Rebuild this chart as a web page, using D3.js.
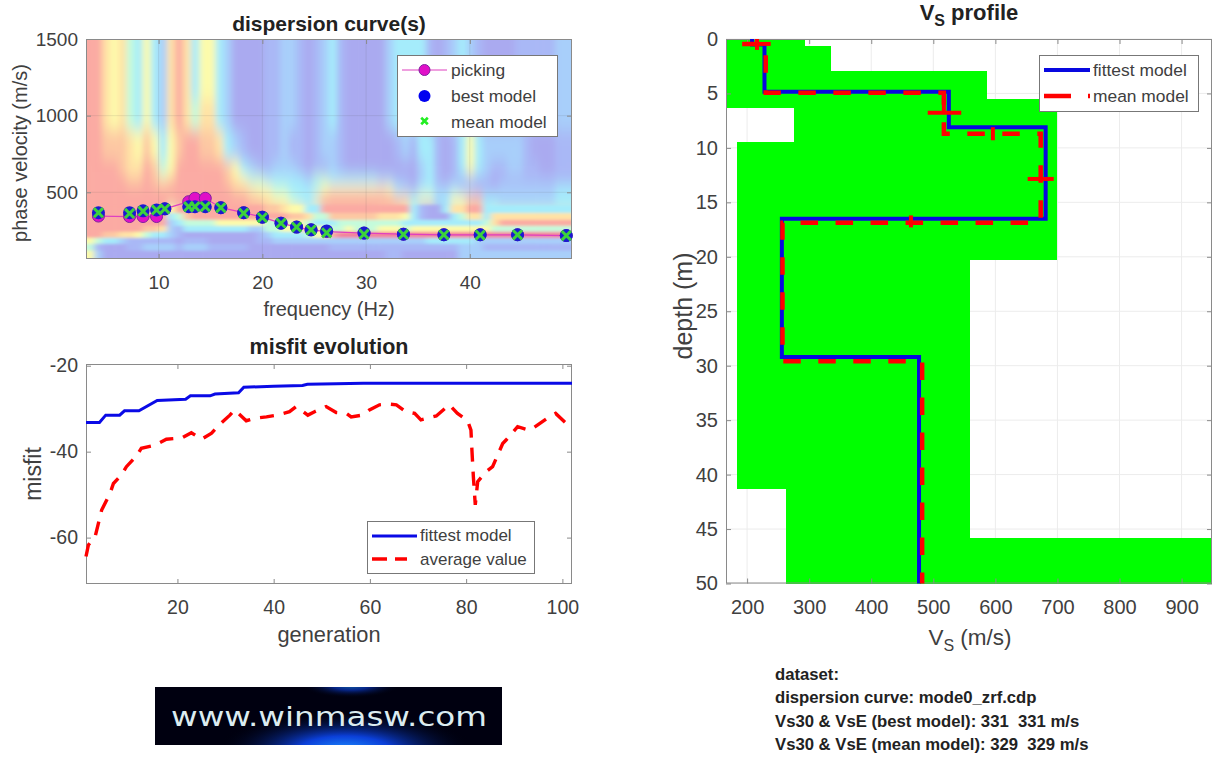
<!DOCTYPE html>
<html>
<head>
<meta charset="utf-8">
<title>winMASW result</title>
<script src="https://cdn.jsdelivr.net/npm/d3@7"></script>
<style>
    html, body { margin: 0; padding: 0; background: #fff; }
    svg { display: block; }
    text { font-family: "Liberation Sans", Arial, sans-serif; }
</style>
</head>
<body>
<svg id="chart" width="1212" height="758"></svg>
<script>
// --- dispersion curves ---
const pickFreq = [4.2, 7.2, 8.5, 9.8, 10.6, 12.9, 13.5, 14.5, 16.0, 18.2, 20.0, 21.8, 23.3, 24.7, 26.2, 29.8, 33.6, 37.5, 41.0, 44.6, 49.3];
const pickVel = [345, 342, 342, 342, 392, 439, 461, 461, 400, 367, 338, 299, 273, 255, 244, 234, 227, 223, 223, 223, 218];
const bestVel = [367, 367, 379, 385, 392, 406, 406, 406, 400, 367, 338, 299, 273, 255, 248, 234, 227, 223, 223, 223, 218];
const meanVel = [367, 362, 377, 385, 392, 406, 406, 406, 400, 364, 335, 299, 273, 255, 236, 227, 225, 223, 221, 223, 218];

// velocity spectrum, one string per velocity band, one digit (0-9) per frequency column
const spectrumFreqStart = 3;
const spectrumFreqStep = 0.78;
const spectrumVelEdges = [1500, 1100, 905, 710, 612, 547, 482, 417, 365, 320, 281, 242, 203, 164, 119, 65];
const spectrumRows = [
    "886564353268635532000011221012310000023333101232100001111122",
    "886564353268646632000011221012310000023333101234200001111122",
    "887776575357887763210011211012210000001213310135322222100011",
    "888876687458888887532112221011210000000002310135321122110011",
    "888887787678888887654433333244333333221102310111110111111111",
    "888888888888888888776554433335666666653213322322111222222233",
    "888888888888888888887765543368888888887645533557733222222233",
    "888888888858888888888877655338888888888831003668833333333333",
    "888888888834788888888888877644777777666531000346636666666666",
    "888888888823444455555544455433344444444333333333346888888888",
    "888888877621333333332244556655445444555455555555554444444444",
    "887766543321000000000123333455899999999999999999999999999999",
    "543321111110111000000112222222222222222222333333222222222222",
    "410001122221222111110000000000111111111111111122211111111111",
    "520000000000000000000000000000000000011000000022222222222222"
];
const spectrumLevels = [0, 1, 2, 3, 4, 5, 6, 7, 8, 9];
const spectrumColors = ["#aaaaf0", "#a9b8f6", "#a8cffa", "#a5ecfb", "#c4fbdc", "#fdfbab", "#ffe3a6", "#fdc8a3", "#fbaaa3", "#f5809a"];

// --- misfit evolution ---
const fittestGen = [1, 3.8, 5.1, 8, 9, 12, 15.8, 21.7, 22.7, 26.8, 27.8, 32.7, 33.8, 40, 46, 47, 53, 58.6, 102];
const fittestMisfit = [-33.2, -33.2, -31.5, -31.5, -30.5, -30.5, -28.1, -27.8, -27, -27, -26.6, -26.3, -25, -24.8, -24.6, -24.3, -24.2, -24.1, -24.1];
const averageGen = [1, 1.5, 2.9, 4.25, 6, 6.7, 8.4, 9.4, 11.5, 12.5, 14.6, 15.8, 17.7, 19.8, 20.8, 22.9, 25, 27.1, 28.5, 30.9, 31.9, 34.3, 36.1, 38.5, 40.6, 43.3, 44.7, 47.1, 48.5, 50.9, 53, 55.1, 56.1, 58.5, 59.9, 62, 63.7, 65.5, 67.5, 69.3, 70.6, 73.8, 76.5, 78.2, 80.3, 81, 81.2, 81.5, 81.9, 82.4, 84.1, 85.5, 87.6, 88.3, 90.7, 93.1, 94.2, 96.9, 98.6, 100.7, 101.8];
const averageMisfit = [-64.4, -61.7, -59.8, -53.6, -49.7, -47.4, -45.4, -43.5, -41, -39.2, -38.7, -38.2, -37.1, -36.9, -36.9, -35.6, -37.1, -35.7, -34, -31.5, -30.3, -32.8, -32.2, -31.9, -31.5, -30.7, -29.5, -31.5, -30.7, -29.5, -30.9, -31.1, -31.9, -31.5, -30.3, -29.1, -28.9, -29.1, -30.7, -31.1, -32.6, -31.7, -29.1, -31.1, -32.8, -35, -39.6, -45.8, -52.4, -47, -44.7, -43.5, -38.1, -37.3, -34.2, -35, -34.3, -32.2, -31.1, -33.3, -32.8];

// --- Vs profile ---
const fittestVs = [208, 208, 228, 228, 525, 525, 681, 681, 256, 256, 477, 477];
const fittestDepth = [0, 0.5, 0.5, 4.84, 4.84, 8.1, 8.1, 16.5, 16.5, 29.2, 29.2, 50];
const meanVs = [192, 230, 230, 517, 517, 673, 673, 257, 257, 482, 482];
const meanDepth = [0.45, 0.45, 4.93, 4.93, 8.7, 8.7, 16.87, 16.87, 29.6, 29.6, 50];
// short red strokes crossing the mean model: v1, d1, v2, d2
const meanCrosses = [[216, 0, 216, 1], [216, 0.45, 238, 0.45], [517, 5.4, 517, 6.9], [491, 6.77, 545, 6.77], [596, 8.1, 596, 9.3], [652, 12.85, 694, 12.85], [464, 16.2, 464, 17.3]];
// search space, one band per depth interval
const bandTop = [0, 0.6, 2.9, 5.5, 6.3, 9.5, 20.3, 41.3, 45.8];
const bandBottom = [0.6, 2.9, 5.5, 6.3, 9.5, 20.3, 41.3, 45.8, 50];
const bandMin = [166, 166, 166, 166, 276, 183, 183, 263, 263];
const bandMax = [293, 335, 586, 699, 699, 699, 559, 559, 949];

const infoLines = ["dataset:", "dispersion curve: mode0_zrf.cdp", "Vs30 & VsE (best model): 331  331 m/s", "Vs30 & VsE (mean model): 329  329 m/s"];

const svg = d3.select("#chart");
const ink = "#404040";
const frame = "#8a8a8a";

// draws ticks on all four sides (matlab box style) and the tick labels left and bottom
function drawBox(g, x, y, xTicks, yTicks, fontSize) {
    const r = x.range(), b = y.range();
    const left = r[0], right = r[1];
    const top = Math.min(b[0], b[1]), bottom = Math.max(b[0], b[1]);
    g.append("g").attr("transform", "translate(0," + bottom + ")")
        .call(d3.axisBottom(x).tickValues(xTicks).tickSize(-5).tickPadding(16.5).tickFormat(String));
    g.append("g").attr("transform", "translate(0," + top + ")")
        .call(d3.axisTop(x).tickValues(xTicks).tickSize(-5).tickFormat(""));
    g.append("g").attr("transform", "translate(" + left + ",0)")
        .call(d3.axisLeft(y).tickValues(yTicks).tickSize(-5).tickPadding(8).tickFormat(String));
    g.append("g").attr("transform", "translate(" + right + ",0)")
        .call(d3.axisRight(y).tickValues(yTicks).tickSize(-5).tickFormat(""));
    g.selectAll(".domain").remove();
    g.selectAll(".tick line").attr("stroke", frame);
    g.selectAll(".tick text").attr("fill", ink).style("font-size", fontSize + "px").style("font-family", '"Liberation Sans", Arial, sans-serif');
    g.append("rect").attr("x", left + 0.5).attr("y", top + 0.5).attr("width", right - left - 1).attr("height", bottom - top - 1)
        .attr("fill", "none").attr("stroke", frame);
}

function drawTitle(x, y, label, size) {
    svg.append("text").attr("x", x).attr("y", y).attr("text-anchor", "middle")
        .attr("font-weight", "bold").attr("font-size", size).attr("fill", "#222").text(label);
}

function drawAxisLabel(x, y, label, size, rotate) {
    const t = svg.append("text").attr("text-anchor", "middle").attr("font-size", size).attr("fill", ink).text(label);
    if (rotate) {
        t.attr("transform", "translate(" + x + "," + y + ") rotate(-90)");
    } else {
        t.attr("x", x).attr("y", y);
    }
    return t;
}

function legendBox(x0, y0, x1, y1) {
    svg.append("rect").attr("x", x0 + 0.5).attr("y", y0 + 0.5).attr("width", x1 - x0).attr("height", y1 - y0)
        .attr("fill", "#fff").attr("stroke", "#777");
}

function legendText(x, y, label, size) {
    svg.append("text").attr("x", x).attr("y", y).attr("font-size", size).attr("fill", ink).attr("dominant-baseline", "middle").text(label);
}

// ---------- dispersion curve(s) ----------
function drawDispersion() {
    const x = d3.scaleLinear().domain([3, 49.85]).range([86, 572]);
    const y = d3.scaleLinear().domain([65, 1500]).range([259, 39]);
    const color = d3.scaleLinear().domain(spectrumLevels).range(spectrumColors);

    const defs = svg.append("defs");
    defs.append("clipPath").attr("id", "specClip").append("rect").attr("x", 86).attr("y", 39).attr("width", 486).attr("height", 220);
    // upper bands are tall and smooth, lower bands hold the narrow ridges
    [["specBlurTop", "3 8"], ["specBlurLow", "3 1.4"]].forEach(function (f) {
        defs.append("filter").attr("id", f[0]).attr("filterUnits", "userSpaceOnUse")
            .attr("x", 50).attr("y", 0).attr("width", 560).attr("height", 300)
            .append("feGaussianBlur").attr("stdDeviation", f[1]);
    });

    const cells = [];
    spectrumRows.forEach(function (row, r) {
        row.split("").forEach(function (ch, c) {
            cells.push({ r: r, c: c, v: +ch });
        });
    });
    const nCols = spectrumRows[0].length, nRows = spectrumRows.length;
    const clip = svg.append("g").attr("clip-path", "url(#specClip)");

    // outer cells overshoot the clip so the blur does not fade at the frame
    function drawCells(blurId, list) {
        clip.append("g").attr("filter", "url(#" + blurId + ")")
            .selectAll("rect").data(list).enter().append("rect")
            .attr("x", d => x(spectrumFreqStart + d.c * spectrumFreqStep) - (d.c == 0 ? 16 : 0))
            .attr("y", d => y(spectrumVelEdges[d.r]) - (d.r == 0 ? 24 : 0))
            .attr("width", d => x(spectrumFreqStep) - x(0) + 0.6 + (d.c == 0 || d.c == nCols - 1 ? 16 : 0))
            .attr("height", d => y(spectrumVelEdges[d.r + 1]) - y(spectrumVelEdges[d.r]) + 0.6 + (d.r == 0 ? 24 : 0) + (d.r == nRows - 1 ? 16 : 0))
            .attr("fill", d => color(d.v));
    }
    drawCells("specBlurTop", cells);
    drawCells("specBlurLow", cells.filter(d => d.r >= 7));

    // faint grid
    const grid = svg.append("g").attr("stroke", "#555").attr("stroke-opacity", 0.12);
    grid.selectAll("line.v").data([10, 20, 30, 40]).enter().append("line").attr("class", "v")
        .attr("x1", d => x(d)).attr("x2", d => x(d)).attr("y1", 39).attr("y2", 259);
    grid.selectAll("line.h").data([500, 1000]).enter().append("line").attr("class", "h")
        .attr("y1", d => y(d)).attr("y2", d => y(d)).attr("x1", 86).attr("x2", 572);

    drawBox(svg.append("g"), x, y, [10, 20, 30, 40], [500, 1000, 1500], 19);

    const line = d3.line().x(d => x(d[0])).y(d => y(d[1]));
    svg.append("path").attr("d", line(d3.zip(pickFreq, pickVel))).attr("fill", "none").attr("stroke", "#e040c0").attr("stroke-width", 1.2);
    svg.selectAll("circle.pick").data(d3.zip(pickFreq, pickVel)).enter().append("circle").attr("class", "pick")
        .attr("cx", d => x(d[0])).attr("cy", d => y(d[1])).attr("r", 6).attr("fill", "#e010c8").attr("stroke", "#8020a0");
    svg.selectAll("circle.best").data(d3.zip(pickFreq, bestVel)).enter().append("circle").attr("class", "best")
        .attr("cx", d => x(d[0])).attr("cy", d => y(d[1])).attr("r", 6.5).attr("fill", "#1a1ad0");
    const cross = d3.symbol().type(d3.symbolX).size(56);
    svg.selectAll("path.mean").data(d3.zip(pickFreq, meanVel)).enter().append("path").attr("class", "mean")
        .attr("d", cross).attr("transform", d => "translate(" + x(d[0]) + "," + y(d[1]) + ")")
        .attr("fill", "none").attr("stroke", "#3cd23c").attr("stroke-width", 3);

    drawTitle(329, 31, "dispersion curve(s)", 21);
    drawAxisLabel(329, 316, "frequency (Hz)", 20);
    drawAxisLabel(27, 153, "phase velocity (m/s)", 20, true);

    legendBox(397, 55, 557, 136);
    svg.append("line").attr("x1", 402).attr("x2", 447).attr("y1", 70).attr("y2", 70).attr("stroke", "#e040c0").attr("stroke-width", 1.2);
    svg.append("circle").attr("cx", 424.5).attr("cy", 70).attr("r", 5.5).attr("fill", "#e010c8").attr("stroke", "#8020a0");
    svg.append("circle").attr("cx", 424.5).attr("cy", 96).attr("r", 6).attr("fill", "#0000f0");
    svg.append("path").attr("d", d3.symbol().type(d3.symbolX).size(30)).attr("transform", "translate(424.5,121)")
        .attr("fill", "none").attr("stroke", "#22ee22").attr("stroke-width", 2.6);
    legendText(451, 71, "picking", 17.4);
    legendText(451, 97, "best model", 17.4);
    legendText(451, 123, "mean model", 17.4);
}

// ---------- misfit evolution ----------
function drawMisfit() {
    const x = d3.scaleLinear().domain([1, 102]).range([86, 572]);
    const y = d3.scaleLinear().domain([-70.8, -19.6]).range([584, 364]);

    drawBox(svg.append("g"), x, y, [20, 40, 60, 80, 100], [-60, -40, -20], 19.5);

    const line = d3.line().x(d => x(d[0])).y(d => y(d[1]));
    svg.append("path").attr("d", line(d3.zip(fittestGen, fittestMisfit))).attr("fill", "none").attr("stroke", "#0a0ae6").attr("stroke-width", 3);
    svg.append("path").attr("d", line(d3.zip(averageGen, averageMisfit))).attr("fill", "none").attr("stroke", "#f00").attr("stroke-width", 3.4)
        .attr("stroke-dasharray", "14 10");

    drawTitle(329, 354, "misfit evolution", 21.5);
    drawAxisLabel(329, 642, "generation", 21.8);
    drawAxisLabel(41, 474, "misfit", 23, true);

    legendBox(367, 521, 534, 573);
    svg.append("line").attr("x1", 372).attr("x2", 417).attr("y1", 536).attr("y2", 536).attr("stroke", "#0a0ae6").attr("stroke-width", 3);
    svg.append("line").attr("x1", 372).attr("x2", 417).attr("y1", 559).attr("y2", 559).attr("stroke", "#f00").attr("stroke-width", 3.4).attr("stroke-dasharray", "15 8 12 10");
    legendText(420, 537, "fittest model", 17);
    legendText(420, 561, "average value", 17);
}

// ---------- Vs profile ----------
function drawProfile() {
    const x = d3.scaleLinear().domain([166, 949]).range([726, 1212]);
    const y = d3.scaleLinear().domain([50, 0]).range([583.5, 39]);
    const vsTicks = [200, 300, 400, 500, 600, 700, 800, 900];
    const depthTicks = [0, 5, 10, 15, 20, 25, 30, 35, 40, 45, 50];

    const grid = svg.append("g").attr("stroke", "#ececec");
    grid.selectAll("line.v").data(vsTicks).enter().append("line").attr("class", "v")
        .attr("x1", d => x(d)).attr("x2", d => x(d)).attr("y1", 39).attr("y2", 583);
    grid.selectAll("line.h").data(depthTicks).enter().append("line").attr("class", "h")
        .attr("y1", d => y(d)).attr("y2", d => y(d)).attr("x1", 726).attr("x2", 1212);

    svg.selectAll("rect.band").data(d3.range(bandTop.length)).enter().append("rect").attr("class", "band")
        .attr("x", i => x(bandMin[i])).attr("y", i => y(bandTop[i]))
        .attr("width", i => x(bandMax[i]) - x(bandMin[i])).attr("height", i => y(bandBottom[i]) - y(bandTop[i]))
        .attr("fill", "#00ff00").attr("shape-rendering", "crispEdges");

    drawBox(svg.append("g"), x, d3.scaleLinear().domain([0, 50]).range([39, 583.5]), vsTicks, depthTicks, 20);

    const line = d3.line().x(d => x(d[0])).y(d => y(d[1]));
    svg.append("path").attr("d", line(d3.zip(fittestVs, fittestDepth))).attr("fill", "none").attr("stroke", "#0808e0").attr("stroke-width", 4);
    svg.append("path").attr("d", line(d3.zip(meanVs, meanDepth))).attr("fill", "none").attr("stroke", "#f00").attr("stroke-width", 4.5)
        .attr("stroke-dasharray", "17.5 17.5");
    svg.selectAll("line.cross").data(meanCrosses).enter().append("line").attr("class", "cross")
        .attr("x1", d => x(d[0])).attr("y1", d => y(d[1])).attr("x2", d => x(d[2])).attr("y2", d => y(d[3]))
        .attr("stroke", "#f00").attr("stroke-width", 4);

    // title and x label with subscript S
    const title = svg.append("text").attr("x", 969).attr("y", 20).attr("text-anchor", "middle").attr("font-weight", "bold").attr("font-size", 22).attr("fill", "#222");
    title.append("tspan").text("V");
    title.append("tspan").attr("font-size", 16).attr("dy", 6).text("S");
    title.append("tspan").attr("dy", -6).text(" profile");

    const xl = svg.append("text").attr("x", 970).attr("y", 645).attr("text-anchor", "middle").attr("font-size", 22.5).attr("fill", ink);
    xl.append("tspan").text("V");
    xl.append("tspan").attr("font-size", 16).attr("dy", 6).text("S");
    xl.append("tspan").attr("dy", -6).text(" (m/s)");

    drawAxisLabel(692, 306, "depth (m)", 25, true);

    legendBox(1039, 55, 1198, 111);
    svg.append("line").attr("x1", 1044).attr("x2", 1090).attr("y1", 70).attr("y2", 70).attr("stroke", "#0808e0").attr("stroke-width", 4);
    svg.append("line").attr("x1", 1044).attr("x2", 1090).attr("y1", 96).attr("y2", 96).attr("stroke", "#f00").attr("stroke-width", 4.5).attr("stroke-dasharray", "27 17 2");
    legendText(1093, 71, "fittest model", 17.4);
    legendText(1093, 97, "mean model", 17.4);

    svg.selectAll("text.info").data(infoLines).enter().append("text").attr("class", "info")
        .attr("x", 775).attr("y", (d, i) => [680, 703, 727, 750][i])
        .attr("font-size", 16.7).attr("font-weight", "bold").attr("fill", "#222").attr("xml:space", "preserve")
        .style("white-space", "pre").text(d => d);
}

// ---------- logo ----------
function drawLogo() {
    const defs = svg.append("defs");
    const glow = defs.append("radialGradient").attr("id", "logoGlow");
    glow.append("stop").attr("offset", "0%").attr("stop-color", "#1c8cff");
    glow.append("stop").attr("offset", "35%").attr("stop-color", "#0b3fd8");
    glow.append("stop").attr("offset", "100%").attr("stop-color", "#000").attr("stop-opacity", 0);
    defs.append("clipPath").attr("id", "logoClip").append("rect").attr("x", 155).attr("y", 687).attr("width", 347).attr("height", 58);

    const g = svg.append("g").attr("clip-path", "url(#logoClip)");
    g.append("rect").attr("x", 155).attr("y", 687).attr("width", 347).attr("height", 58).attr("fill", "#000010");
    g.append("ellipse").attr("cx", 345).attr("cy", 750).attr("rx", 130).attr("ry", 40).attr("fill", "url(#logoGlow)");
    g.append("ellipse").attr("cx", 351).attr("cy", 686).attr("rx", 50).attr("ry", 12).attr("fill", "url(#logoGlow)").attr("opacity", 0.6);
    svg.append("text").attr("x", 171).attr("y", 726).attr("font-size", 27).attr("fill", "#dcecf0")
        .attr("textLength", 316).attr("lengthAdjust", "spacingAndGlyphs").style("font-family", '"DejaVu Sans", sans-serif')
        .text("www.winmasw.com");
}

drawDispersion();
drawMisfit();
drawProfile();
drawLogo();
</script>
</body>
</html>
